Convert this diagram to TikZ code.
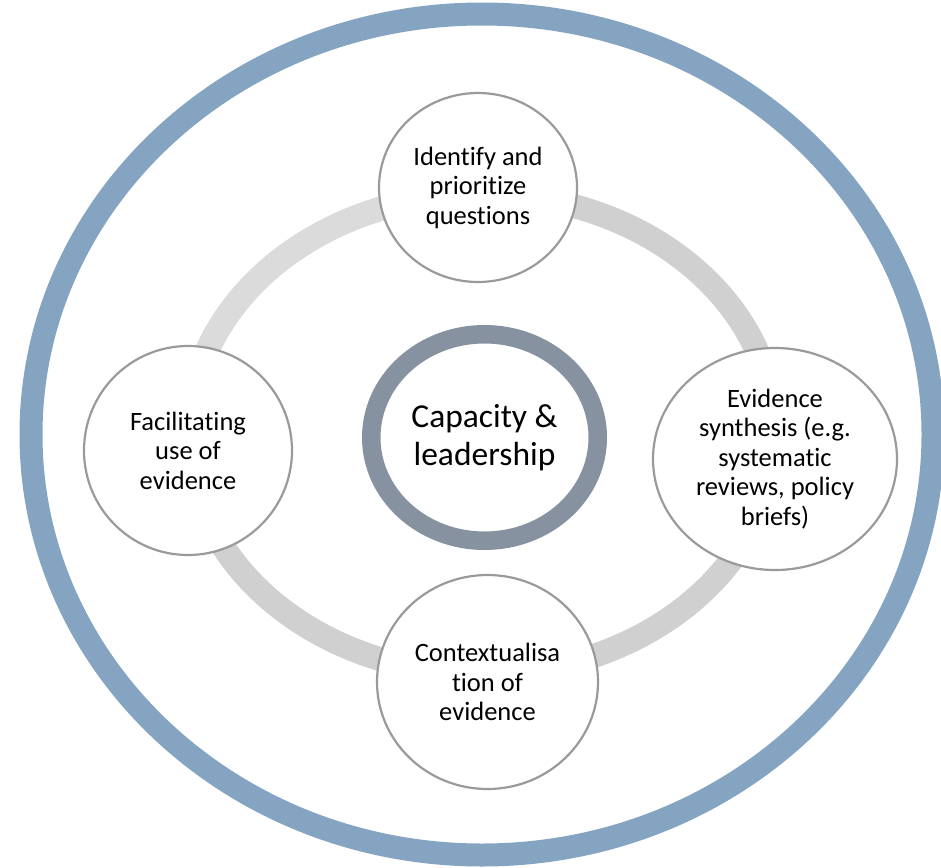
\documentclass[tikz,border=0pt]{standalone}
\usepackage{fontspec}
\setmainfont{Carlito}[Ligatures=NoCommon]
\usetikzlibrary{shapes.geometric}
\definecolor{outerblue}{HTML}{84A4C1}
\definecolor{hubgray}{HTML}{8792A0}
\definecolor{ringgray}{HTML}{D0D0D0}
\definecolor{ringlight}{HTML}{DBDBDB}
\definecolor{rimgray}{HTML}{9A9A9A}
\begin{document}
\begin{tikzpicture}[x=1pt,y=-1pt,
  sat/.style={ellipse, draw=rimgray, line width=2.2pt, fill=white, inner sep=0pt, align=center, font=\fontsize{26.5}{29.5}\selectfont},
  hub/.style={ellipse, draw=hubgray, line width=18.5pt, fill=white, inner sep=0pt, align=center, font=\fontsize{33.5}{38}\selectfont}]
\useasboundingbox (0,0) rectangle (941,867);
\clip (0,0) rectangle (941,867);
\draw[outerblue, line width=23pt] (482,434.5) ellipse [x radius=451, y radius=420.5];
\draw[ringgray, line width=24pt] (482,434) ellipse [x radius=293, y radius=240];
\draw[ringlight, line width=24pt] (189,434) arc[start angle=180, end angle=270, x radius=293, y radius=240];
\node[hub, minimum width=226.5pt, minimum height=206.5pt] (hub) at (484.5,437.5) {Capacity \&\\leadership};
\node[sat, minimum width=198pt, minimum height=189pt] (top) at (478,187.5) {Identify and\\prioritize\\questions};
\node[sat, minimum width=244pt, minimum height=222pt] (right) at (775,459) {Evidence\\synthesis (e.g.\\systematic\\reviews, policy\\briefs)};
\node[sat, minimum width=221pt, minimum height=214pt] (bottom) at (487.5,682) {Contextualisa\\tion of\\evidence};
\node[sat, minimum width=208pt, minimum height=209pt] (left) at (188,450.5) {Facilitating\\use of\\evidence};
\end{tikzpicture}
\end{document}
